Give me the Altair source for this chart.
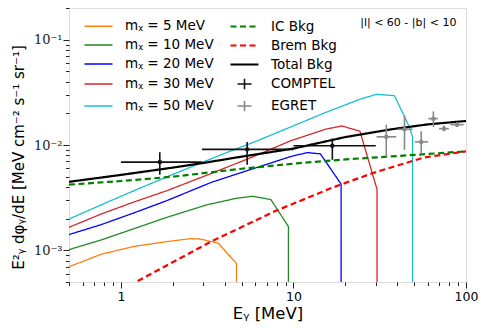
import altair as alt
import pandas as pd

# ---------------- data ----------------
NAMES = ["mᵪ = 5 MeV", "mᵪ = 10 MeV", "mᵪ = 20 MeV", "mᵪ = 30 MeV", "mᵪ = 50 MeV",
         "IC Bkg", "Brem Bkg", "Total Bkg", "COMPTEL", "EGRET"]
COLORS = ["#ff7f0e", "#228b22", "#0000ff", "#d62728", "#17becf",
          "#008000", "#ff0000", "#000000", "#111111", "#888888"]
DASHES = [[1, 0], [1, 0], [1, 0], [1, 0], [1, 0],
          [6, 3.5], [6, 3.5], [1, 0], [1, 0], [1, 0]]
WIDTHS = [1.3, 1.3, 1.3, 1.3, 1.3, 2.2, 2.2, 2.2, 1.6, 1.6]
LINE_SYM = "M-2,0H2"
CROSS_SYM = "M-1,0H1M0,-0.75V0.75"
SHAPES = [LINE_SYM] * 8 + [CROSS_SYM, CROSS_SYM]

# dark-matter spectra (E in MeV, E^2 dphi/dE)
E5 = [0.5, 0.768, 1.193, 1.852, 2.52, 2.87, 3.66, 4.67, 4.67]
F5 = [6.98e-4, 9.17e-4, 1.09e-3, 1.21e-3, 1.29e-3, 1.28e-3, 1.17e-3, 7.5e-4, 1e-4]
E10 = [0.5, 0.768, 1.193, 1.852, 3.14, 4.67, 5.81, 7.40, 9.35, 9.35]
F10 = [1.015e-3, 1.254e-3, 1.607e-3, 2.06e-3, 2.70e-3, 3.12e-3, 3.26e-3, 3.03e-3, 1.68e-3, 1e-4]
E20 = [0.5, 0.768, 1.193, 1.852, 3.354, 5.685, 9.64, 12.02, 14.32, 18.89, 18.89]
F20 = [1.41e-3, 1.753e-3, 2.27e-3, 2.97e-3, 4.43e-3, 5.87e-3, 7.77e-3, 8.47e-3, 8.24e-3, 4.25e-3, 1e-4]
E30 = [0.5, 0.768, 1.193, 1.852, 3.354, 5.685, 9.64, 15.29, 19.06, 24.28, 30.5, 30.5]
F30 = [1.654e-3, 2.21e-3, 2.88e-3, 3.69e-3, 5.38e-3, 7.60e-3, 1.097e-2, 1.41e-2, 1.517e-2, 1.353e-2, 3.79e-3, 1e-4]
E50 = [0.5, 0.768, 1.193, 1.852, 3.58, 6.07, 9.64, 15.29, 24.28, 30.3, 38.5, 46.96, 49.0, 49.0]
F50 = [1.98e-3, 2.70e-3, 3.69e-3, 4.99e-3, 7.77e-3, 1.085e-2, 1.484e-2, 2.03e-2, 2.72e-2, 3.03e-2, 2.94e-2, 1.484e-2, 1.196e-2, 1e-4]

# backgrounds
E_IC = [0.5, 1, 2, 3, 5, 10, 20, 50, 100]
F_IC = [4.2e-3, 4.55e-3, 5.0e-3, 5.4e-3, 5.95e-3, 6.65e-3, 7.3e-3, 8.05e-3, 8.7e-3]
E_BR = [1.0, 1.22, 3.43, 7.9, 16.7, 28.9, 57, 100]
F_BR = [4.2e-4, 5.0e-4, 1.24e-3, 2.37e-3, 3.92e-3, 5.42e-3, 7.6e-3, 8.7e-3]
E_TOT = [0.5, 1, 2, 3, 5, 10, 20, 37, 60, 100]
F_TOT = [4.47e-3, 5.2e-3, 6.1e-3, 6.75e-3, 7.75e-3, 9.25e-3, 1.19e-2, 1.41e-2, 1.57e-2, 1.69e-2]

# COMPTEL data
C_E = [1.68, 5.39, 16.8]
C_ELO = [1.0, 2.95, 10.0]
C_EHI = [2.95, 10.0, 30.0]
C_F = [6.88e-3, 9.09e-3, 9.85e-3]
C_FLO = [5.23e-3, 6.5e-3, 7.23e-3]
C_FHI = [8.52e-3, 1.07e-2, 1.15e-2]

# EGRET data
G_E = [34.5, 44.0, 55.0, 64.7, 74.5, 88.8]
G_ELO = [30.3, 40.2, 50.6, 60.3, 69.8, 81.4]
G_EHI = [39.4, 49.0, 60.3, 68.8, 79.6, 97.0]
G_F = [1.196e-2, 1.41e-2, 1.07e-2, 1.78e-2, 1.43e-2, 1.56e-2]
G_FLO = [7.77e-3, 8.98e-3, 8.34e-3, 1.48e-2, 1.35e-2, 1.48e-2]
G_FHI = [1.56e-2, 1.91e-2, 1.35e-2, 2.08e-2, 1.54e-2, 1.65e-2]

XTICKS = [0.5, 0.6, 0.7, 0.8, 0.9, 1, 2, 3, 4, 5, 6, 7, 8, 9, 10,
          20, 30, 40, 50, 60, 70, 80, 90, 100]
YTICKS = [5e-4, 6e-4, 7e-4, 8e-4, 9e-4, 1e-3, 2e-3, 3e-3, 4e-3, 5e-3, 6e-3, 7e-3,
          8e-3, 9e-3, 1e-2, 2e-2, 3e-2, 4e-2, 5e-2, 6e-2, 7e-2, 8e-2, 9e-2, 1e-1, 2e-1]
REGION_TEXT = "|l| < 60 - |b| < 10"
REGION_E = [88.0]
REGION_F = [0.143]

X_TITLE = "Eᵧ [MeV]"
Y_TITLE = "E²ᵧ dφᵧ/dE [MeV cm⁻² s⁻¹ sr⁻¹]"

# ---------------- tables ----------------
def curve_rows(pairs):
    rows = []
    for name, es, fs in pairs:
        for i, (e, f) in enumerate(zip(es, fs)):
            rows.append({"name": name, "E": e, "F": f, "i": i})
    return pd.DataFrame(rows)

dm_df = curve_rows([(NAMES[0], E5, F5), (NAMES[1], E10, F10), (NAMES[2], E20, F20),
                    (NAMES[3], E30, F30), (NAMES[4], E50, F50)])
bkg_df = curve_rows([(NAMES[5], E_IC, F_IC), (NAMES[6], E_BR, F_BR), (NAMES[7], E_TOT, F_TOT)])

pts = []
for name, E, ELO, EHI, F, FLO, FHI in [(NAMES[8], C_E, C_ELO, C_EHI, C_F, C_FLO, C_FHI),
                                        (NAMES[9], G_E, G_ELO, G_EHI, G_F, G_FLO, G_FHI)]:
    for k in range(len(E)):
        pts.append({"name": name, "E": E[k], "Elo": ELO[k], "Ehi": EHI[k],
                    "F": F[k], "Flo": FLO[k], "Fhi": FHI[k]})
pts_df = pd.DataFrame(pts)
txt_df = pd.DataFrame({"E": REGION_E, "F": REGION_F, "t": [REGION_TEXT]})

# ---------------- scales / axes ----------------
xscale = alt.Scale(type="log", domain=[0.5, 100], nice=False)
yscale = alt.Scale(type="log", domain=[5e-4, 0.2], nice=False)
xmajor = "datum.value == 1 || datum.value == 10 || datum.value == 100"
ymajor = "datum.value == 0.1 || datum.value == 0.01 || datum.value == 0.001"

xaxis = alt.Axis(values=XTICKS, grid=False, domain=False, labelOverlap=False, labelFlush=False,
                 labelExpr="datum.value == 1 ? '1' : datum.value == 10 ? '10' : datum.value == 100 ? '100' : ''",
                 tickSize={"condition": {"test": xmajor, "value": 6}, "value": 3.5},
                 tickColor="#222", labelColor="black", labelFont="DejaVu Sans", labelFontSize=12.5,
                 labelPadding=2, titleFont="DejaVu Sans", titleFontSize=16.5, titleFontWeight="normal",
                 titleColor="black", titlePadding=3)
yaxis = alt.Axis(values=YTICKS, grid=False, domain=False, labelOverlap=False, labelFlush=False,
                 labelExpr="datum.value == 0.1 ? '10⁻¹' : datum.value == 0.01 ? '10⁻²' : datum.value == 0.001 ? '10⁻³' : ''",
                 tickSize={"condition": {"test": ymajor, "value": 6}, "value": 3.5},
                 tickColor="#222", labelColor="#222", labelFont="DejaVu Serif", labelFontSize=13,
                 labelPadding=1, titleFont="DejaVu Sans", titleFontSize=15, titleFontWeight="normal",
                 titleColor="black", titlePadding=7, titleY=149)

leg = alt.Legend(title=None, orient="none", legendX=21, legendY=10, columns=2,
                 symbolSize=196, labelFontSize=13.5, labelFont="DejaVu Sans",
                 labelColor="black", labelOffset=18, rowPadding=4, columnPadding=12)

def X(field):
    return alt.X(field, scale=xscale, axis=xaxis, title=X_TITLE)

def Y(field):
    return alt.Y(field, scale=yscale, axis=yaxis, title=Y_TITLE)

color = alt.Color("name:N", scale=alt.Scale(domain=NAMES, range=COLORS), legend=leg)
dash = alt.StrokeDash("name:N", scale=alt.Scale(domain=NAMES, range=DASHES), legend=leg)
shape = alt.Shape("name:N", scale=alt.Scale(domain=NAMES, range=SHAPES), legend=leg)
width = alt.StrokeWidth("name:N", scale=alt.Scale(type="ordinal", domain=NAMES, range=WIDTHS), legend=leg)

dm_lines = alt.Chart(dm_df).mark_line(clip=True).encode(
    x=X("E:Q"), y=Y("F:Q"), color=color, strokeDash=dash, strokeWidth=width, order="i:Q")
bkg_lines = alt.Chart(bkg_df).mark_line(clip=True).encode(
    x=X("E:Q"), y=Y("F:Q"), color=color, strokeDash=dash, strokeWidth=width, order="i:Q")
hbars = alt.Chart(pts_df).mark_rule(strokeWidth=1.6).encode(
    x=X("Elo:Q"), x2="Ehi:Q", y=Y("F:Q"), color=color)
vbars = alt.Chart(pts_df).mark_rule(strokeWidth=1.6).encode(
    x=X("E:Q"), y=Y("Flo:Q"), y2="Fhi:Q", color=color)
dots = alt.Chart(pts_df).mark_circle(size=20, opacity=1).encode(
    x=X("E:Q"), y=Y("F:Q"), color=color)
legend_layer = alt.Chart(pts_df).mark_point(filled=False, opacity=1).encode(
    x=X("E:Q"), y=Y("F:Q"), color=color, shape=shape).transform_filter("false")
label = alt.Chart(txt_df).mark_text(align="right", baseline="middle", font="DejaVu Sans",
                                    fontSize=11, color="black").encode(
    x=X("E:Q"), y=Y("F:Q"), text="t:N")

chart = alt.layer(dm_lines, bkg_lines, hbars, vbars, dots, legend_layer, label).properties(
    width=397, height=274,
    autosize=alt.AutoSizeParams(type="none"),
    padding={"left": 61, "top": 0, "right": 14, "bottom": 42},
).configure_view(stroke="#222", strokeWidth=1).configure(font="DejaVu Sans")

chart.save("out.html", embed_options={"renderer": "svg", "actions": False})
